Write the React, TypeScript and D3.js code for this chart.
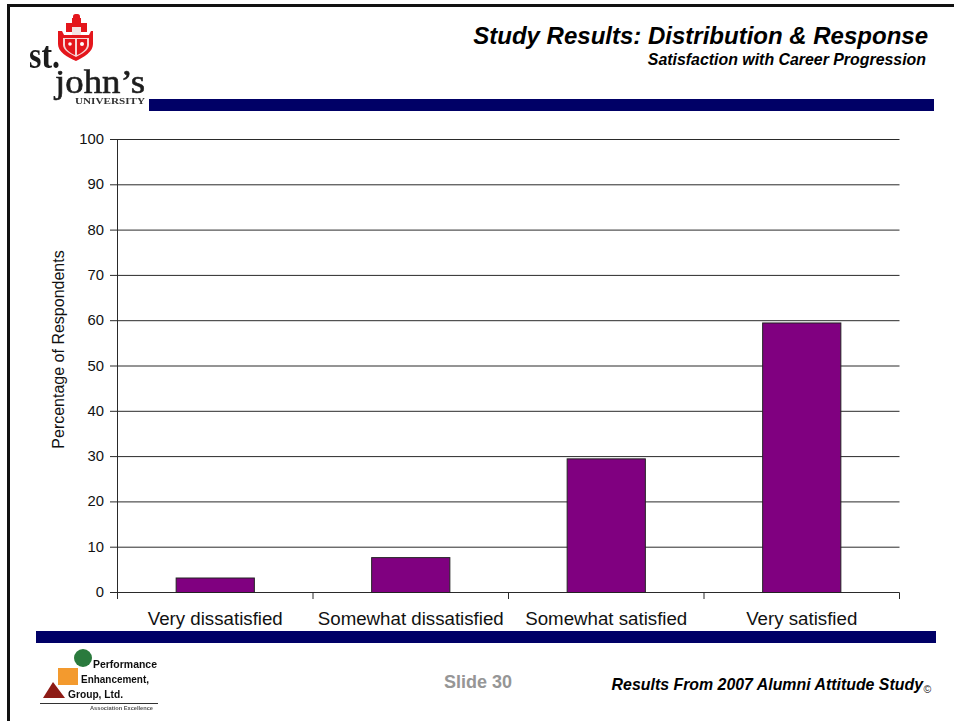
import React from "react";
import * as d3 from "d3";

const categories = ["Very dissatisfied", "Somewhat dissatisfied", "Somewhat satisfied", "Very satisfied"];
const percentages = [3.2, 7.7, 29.5, 59.5];
const yTicks = [0, 10, 20, 30, 40, 50, 60, 70, 80, 90, 100];

const SANS = "'Liberation Sans', Arial, sans-serif";
const SERIF = "'Liberation Serif', 'Times New Roman', serif";
const NAVY = "#000066";
const PLUM = "#800080";
const LINE = "#2a2a2a";

const x = d3.scaleBand<string>().domain(categories).range([117.5, 899.5]).paddingInner(0.6).paddingOuter(0.3);
const y = d3.scaleLinear().domain([0, 100]).range([592.5, 139.5]);
const step = x.step();
const tickXs = d3.range(categories.length + 1).map((i) => 117.5 + i * step);

function UniversityLogo() {
  return (
    <g filter="url(#soft)">
      {/* crest */}
      <path d="M66 32 V23 H72 V18 H81 V23 H87 V32 Z" fill="#e4141c" />
      <rect x="73" y="14" width="7" height="6" rx="2.500" fill="#e4141c" />
      <path d="M58 31 H62 L64 35 H89 L91 31 H93 V44 C93 52 84 57 76 61 C67 57 58 52 58 44 Z" fill="#e4141c" />
      <path d="M63 38 H89 V45 C89 50 82 54 76 57 C70 54 63 50 63 45 Z" fill="#f6d5d5" />
      <path d="M65 39 H75 V55 C70 53 65 49 65 45 Z M77 39 H87 V45 C87 49 82 53 77 55 Z" fill="#e4141c" />
      <rect x="72" y="27" width="9" height="8" fill="#f3e3e3" />
      <circle cx="70" cy="44" r="1.800" fill="#fff" />
      <circle cx="82" cy="44" r="2" fill="#fff" />
      {/* wordmark */}
      <text x="29" y="68" fontFamily={SERIF} fontSize="37" fontWeight="700" textLength="31" lengthAdjust="spacingAndGlyphs" fill="#1f1f1f">st.</text>
      <text x="55" y="93" fontFamily={SERIF} fontSize="34" fontWeight="400" stroke="#1f1f1f" strokeWidth="0.600" textLength="90" lengthAdjust="spacingAndGlyphs" fill="#1f1f1f">john’s</text>
      <text x="75" y="104" fontFamily={SERIF} fontSize="9" fontWeight="700" textLength="70" lengthAdjust="spacingAndGlyphs" fill="#333">UNIVERSITY</text>
    </g>
  );
}

function ConsultancyLogo() {
  return (
    <g filter="url(#softer)">
      <circle cx="83" cy="658" r="9" fill="#2b7a3d" />
      <rect x="58" y="668" width="20" height="17" fill="#f39a2e" />
      <path d="M43 698 L53 682 L65 698 Z" fill="#8e1a14" />
      <text x="93" y="667.500" fontFamily={SANS} fontSize="11" fontWeight="700" textLength="64" lengthAdjust="spacingAndGlyphs" fill="#111">Performance</text>
      <text x="81" y="683" fontFamily={SANS} fontSize="11" fontWeight="700" textLength="68" lengthAdjust="spacingAndGlyphs" fill="#111">Enhancement,</text>
      <text x="68" y="698" fontFamily={SANS} fontSize="11" fontWeight="700" textLength="55" lengthAdjust="spacingAndGlyphs" fill="#111">Group, Ltd.</text>
      <line x1="40" x2="158" y1="703.500" y2="703.500" stroke="#333" strokeWidth="1" />
      <text x="90" y="710" fontFamily={SANS} fontSize="6" fontWeight="700" textLength="63" lengthAdjust="spacingAndGlyphs" fill="#555">Association Excellence</text>
    </g>
  );
}

export default function App() {
  return (
    <svg
      width={954}
      height={721}
      viewBox="0 0 954 721"
      style={{ position: "fixed", left: 0, top: 0, background: "#fff", display: "block" }}
    >
      <defs>
        <filter id="soft" x="-5%" y="-5%" width="110%" height="110%">
          <feGaussianBlur stdDeviation="0.5" />
        </filter>
        <filter id="softer" x="-5%" y="-5%" width="110%" height="110%">
          <feGaussianBlur stdDeviation="0.7" />
        </filter>
      </defs>

      {/* slide frame */}
      <rect x={0} y={0} width={954} height={721} fill="#fff" />
      <rect x={7} y={4} width={947} height={3} fill="#111" />
      <rect x={7} y={4} width={3} height={717} fill="#111" />

      <UniversityLogo />

      <text x={928} y={44} textAnchor="end" fontFamily={SANS} fontSize={24} fontWeight={700} fontStyle="italic" fill="#000">
        Study Results: Distribution &amp; Response
      </text>
      <text x={926} y={65} textAnchor="end" fontFamily={SANS} fontSize={15.9} fontWeight={700} fontStyle="italic" fill="#000">
        Satisfaction with Career Progression
      </text>

      <rect x={149} y={99} width={785} height={12} fill={NAVY} />
      <rect x={36} y={631} width={900} height={12} fill={NAVY} />

      {/* gridlines and y ticks */}
      {yTicks.map((t) => (
        <g key={t}>
          <line x1={110} x2={899.5} y1={y(t)} y2={y(t)} stroke={LINE} strokeWidth={1} />
          <text x={104} y={y(t) + 4.5} textAnchor="end" fontFamily={SANS} fontSize={14.8} fill="#111">{t}</text>
        </g>
      ))}

      {/* bars */}
      {categories.map((c, i) => (
        <rect
          key={c}
          x={x(c)}
          y={y(percentages[i])}
          width={x.bandwidth()}
          height={y(0) - y(percentages[i])}
          fill={PLUM}
          stroke="#222"
          strokeWidth={1}
        />
      ))}

      {/* axes */}
      <line x1={117.5} x2={117.5} y1={139.5} y2={599} stroke={LINE} strokeWidth={1} />
      {tickXs.map((tx) => (
        <line key={tx} x1={tx} x2={tx} y1={592.5} y2={599} stroke={LINE} strokeWidth={1} />
      ))}
      {categories.map((c) => (
        <text key={c} x={x(c)! + x.bandwidth() / 2} y={625} textAnchor="middle" fontFamily={SANS} fontSize={18.7} fill="#111">
          {c}
        </text>
      ))}
      <text
        transform="translate(64 349.500) rotate(-90)"
        textAnchor="middle"
        fontFamily={SANS}
        fontSize={16}
        fill="#111"
      >
        Percentage of Respondents
      </text>

      <ConsultancyLogo />

      <text x={478} y={688} textAnchor="middle" fontFamily={SANS} fontSize={18} fontWeight={700} fill="#969696">Slide 30</text>
      <text x={923} y={690} textAnchor="end" fontFamily={SANS} fontSize={15.9} fontWeight={700} fontStyle="italic" fill="#000">
        Results From 2007 Alumni Attitude Study
      </text>
      <text x={923.500} y={693} fontFamily={SANS} fontSize={10.500} fill="#111">©</text>
    </svg>
  );
}
